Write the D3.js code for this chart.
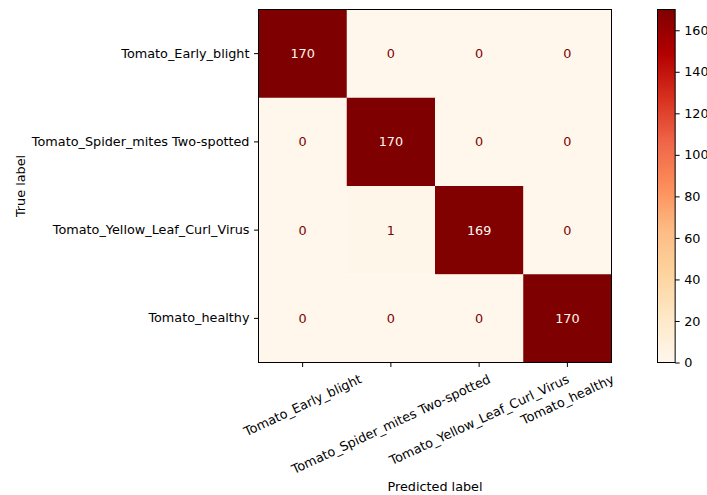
<!DOCTYPE html>
<html>
<head>
<meta charset="utf-8">
<script src="https://cdn.jsdelivr.net/npm/d3@7"></script>
<style>
  body { margin: 0; background: #fff; }
  text { font-family: "DejaVu Sans", sans-serif; fill: #000; }
</style>
</head>
<body>
<svg id="chart" width="707" height="495"></svg>
<script>
const classes = [
  "Tomato_Early_blight",
  "Tomato_Spider_mites Two-spotted",
  "Tomato_Yellow_Leaf_Curl_Virus",
  "Tomato_healthy",
];
// rows = true label, columns = predicted label
const counts = [
  [170, 0, 0, 0],
  [0, 170, 0, 0],
  [0, 1, 169, 0],
  [0, 0, 0, 170],
];
const colorTicks = [0, 20, 40, 60, 80, 100, 120, 140, 160];
const vmin = 0;
const vmax = 170;

const svg = d3.select("#chart");
const fontSize = 12.8;
const tickLen = 4.5;
const tickPad = 4.5;

const plotLeft = 258.5, plotTop = 9.5, size = 353;

const x = d3.scaleBand().domain(d3.range(classes.length)).range([plotLeft, plotLeft + size]);
const y = d3.scaleBand().domain(d3.range(classes.length)).range([plotTop, plotTop + size]);

// OrRd as matplotlib does it: linear between the 9 brewer colours
const orrd = d3.schemeOrRd[9];
const color = d3
  .scaleLinear()
  .domain(orrd.map((d, i) => vmin + (i / (orrd.length - 1)) * (vmax - vmin)))
  .range(orrd)
  .interpolate(d3.interpolateRgb)
  .clamp(true);

const cells = [];
counts.forEach((row, i) => {
  row.forEach((v, j) => cells.push({ row: i, col: j, value: v }));
});

svg
  .selectAll("rect.cell")
  .data(cells)
  .join("rect")
  .attr("class", "cell")
  .attr("x", (d) => x(d.col))
  .attr("y", (d) => y(d.row))
  .attr("width", x.bandwidth() + 0.5)
  .attr("height", y.bandwidth() + 0.5)
  .attr("fill", (d) => color(d.value));

const thresh = (vmax + vmin) / 2;
svg
  .selectAll("text.val")
  .data(cells)
  .join("text")
  .attr("class", "val")
  .attr("x", (d) => x(d.col) + x.bandwidth() / 2)
  .attr("y", (d) => y(d.row) + y.bandwidth() / 2)
  .attr("text-anchor", "middle")
  .attr("dominant-baseline", "central")
  .style("font-size", fontSize + "px")
  .style("fill", (d) => (d.value > thresh ? orrd[0] : orrd[8]))
  .text((d) => d.value);

// frame
svg
  .append("rect")
  .attr("x", plotLeft)
  .attr("y", plotTop)
  .attr("width", size)
  .attr("height", size)
  .attr("fill", "none")
  .attr("stroke", "#000")
  .attr("stroke-width", 1);

// y axis
const yAxis = d3
  .axisLeft(y)
  .tickSize(tickLen)
  .tickPadding(tickPad)
  .tickFormat((i) => classes[i]);
const gy = svg.append("g").attr("transform", `translate(${plotLeft},0)`).call(yAxis);
gy.select(".domain").remove();
gy.selectAll("text").style("font-size", fontSize + "px").attr("fill", "#000").style("font-family", "DejaVu Sans");
gy.selectAll("line").attr("stroke", "#000");

// x axis with rotated labels, centered like matplotlib
const xAxis = d3.axisBottom(x).tickSize(tickLen).tickFormat("");
const gx = svg.append("g").attr("transform", `translate(0,${plotTop + size})`).call(xAxis);
gx.select(".domain").remove();
gx.selectAll("line").attr("stroke", "#000");

const rot = 25;
const rad = (rot * Math.PI) / 180;
const xLabels = svg
  .selectAll("text.xlab")
  .data(classes)
  .join("text")
  .attr("class", "xlab")
  .style("font-size", fontSize + "px")
  .attr("text-anchor", "middle")
  .attr("dominant-baseline", "central")
  .text((d) => d);

xLabels.each(function (d, i) {
  const w = this.getComputedTextLength();
  const h = fontSize * 1.15;
  const H = w * Math.sin(rad) + h * Math.cos(rad);
  const cx = x(i) + x.bandwidth() / 2;
  const cy = plotTop + size + tickLen + tickPad + H / 2;
  d3.select(this)
    .attr("x", 0)
    .attr("y", 0)
    .attr("transform", `translate(${cx},${cy}) rotate(${-rot})`);
});

// axis titles
svg
  .append("text")
  .attr("x", plotLeft + size / 2)
  .attr("y", 486)
  .attr("text-anchor", "middle")
  .attr("dominant-baseline", "central")
  .style("font-size", fontSize + "px")
  .text("Predicted label");

svg
  .append("text")
  .attr("transform", `translate(20,${plotTop + size / 2}) rotate(-90)`)
  .attr("text-anchor", "middle")
  .attr("dominant-baseline", "central")
  .style("font-size", fontSize + "px")
  .text("True label");

// colorbar (matplotlib default aspect 20)
const cbLeft = 657.5, cbWidth = size / 20;
const cbScale = d3.scaleLinear().domain([vmin, vmax]).range([plotTop + size, plotTop]);
const defs = svg.append("defs");
const grad = defs
  .append("linearGradient")
  .attr("id", "cbgrad")
  .attr("x1", 0)
  .attr("y1", 1)
  .attr("x2", 0)
  .attr("y2", 0);
grad
  .selectAll("stop")
  .data(orrd)
  .join("stop")
  .attr("offset", (d, i) => i / (orrd.length - 1))
  .attr("stop-color", (d) => d);

svg
  .append("rect")
  .attr("x", cbLeft)
  .attr("y", plotTop)
  .attr("width", cbWidth)
  .attr("height", size)
  .attr("fill", "url(#cbgrad)")
  .attr("stroke", "#000")
  .attr("stroke-width", 1);

const cbAxis = d3.axisRight(cbScale).tickValues(colorTicks).tickSize(tickLen).tickPadding(tickPad);
const gcb = svg.append("g").attr("transform", `translate(${cbLeft + cbWidth},0)`).call(cbAxis);
gcb.select(".domain").remove();
gcb.selectAll("line").attr("stroke", "#000");
gcb.selectAll("text").style("font-size", fontSize + "px").attr("fill", "#000").style("font-family", "DejaVu Sans");
</script>
</body>
</html>
